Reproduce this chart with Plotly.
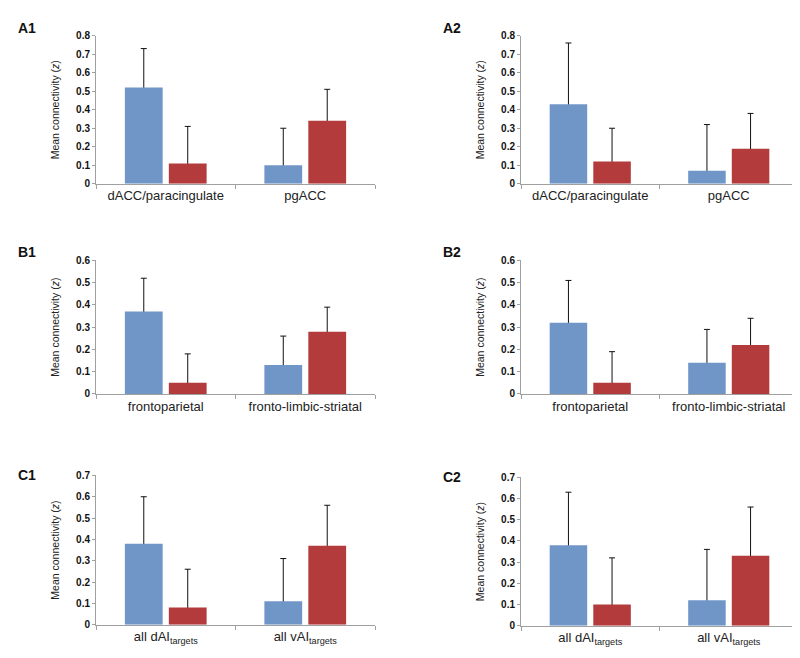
"""Mean connectivity bar panels (A1-C2) rebuilt with Plotly."""
import plotly.graph_objects as go

W, H = 800, 658

BLUE = "#7096C8"
RED = "#B43B3B"
AXIS = "#A0A0A0"

CATS_A = ["dACC/paracingulate", "pgACC"]
CATS_B = ["frontoparietal", "fronto-limbic-striatal"]
CATS_C = ["all dAI<sub>targets</sub>", "all vAI<sub>targets</sub>"]

A1_BLUE = [0.52, 0.10]
A1_BLUE_ERR = [0.21, 0.20]
A1_RED = [0.11, 0.34]
A1_RED_ERR = [0.20, 0.17]

A2_BLUE = [0.43, 0.07]
A2_BLUE_ERR = [0.33, 0.25]
A2_RED = [0.12, 0.19]
A2_RED_ERR = [0.18, 0.19]

B1_BLUE = [0.37, 0.13]
B1_BLUE_ERR = [0.15, 0.13]
B1_RED = [0.05, 0.28]
B1_RED_ERR = [0.13, 0.11]

B2_BLUE = [0.32, 0.14]
B2_BLUE_ERR = [0.19, 0.15]
B2_RED = [0.05, 0.22]
B2_RED_ERR = [0.14, 0.12]

C1_BLUE = [0.38, 0.11]
C1_BLUE_ERR = [0.22, 0.20]
C1_RED = [0.08, 0.37]
C1_RED_ERR = [0.18, 0.19]

C2_BLUE = [0.38, 0.12]
C2_BLUE_ERR = [0.25, 0.24]
C2_RED = [0.10, 0.33]
C2_RED_ERR = [0.22, 0.23]

# panel: label, categories, blue, blue err, red, red err, ymax,
#        pixel box (x0, x1, y_zero, y_top), label position (px)
PANELS = [
    ("A1", CATS_A, A1_BLUE, A1_BLUE_ERR, A1_RED, A1_RED_ERR, 0.8,
     (88, 367, 173, 22), (8, 14)),
    ("A2", CATS_A, A2_BLUE, A2_BLUE_ERR, A2_RED, A2_RED_ERR, 0.8,
     (513, 790, 173, 22), (433, 14)),
    ("B1", CATS_B, B1_BLUE, B1_BLUE_ERR, B1_RED, B1_RED_ERR, 0.6,
     (88, 367, 387, 251), (8, 242)),
    ("B2", CATS_B, B2_BLUE, B2_BLUE_ERR, B2_RED, B2_RED_ERR, 0.6,
     (513, 790, 387, 251), (433, 242)),
    ("C1", CATS_C, C1_BLUE, C1_BLUE_ERR, C1_RED, C1_RED_ERR, 0.7,
     (88, 367, 622, 470), (8, 470)),
    ("C2", CATS_C, C2_BLUE, C2_BLUE_ERR, C2_RED, C2_RED_ERR, 0.7,
     (513, 790, 623, 472), (433, 472)),
]


def _err(vals):
    # upward only; the lower cap sits slightly inside the bar and is covered
    return dict(type="data", array=vals, arrayminus=[0.012] * len(vals),
                symmetric=False, color="#111111", thickness=1, width=3)


fig = go.Figure()
layout = {}
for i, (label, cats, blue, blue_err, red, red_err, ymax, box, lpos) in enumerate(PANELS):
    n = "" if i == 0 else str(i + 1)
    x0, x1, yz, yt = box
    # error bars first (transparent bars), then the coloured bars on top
    for vals, errs, grp in ((blue, blue_err, "b"), (red, red_err, "r")):
        fig.add_trace(go.Bar(
            x=cats, y=vals, offsetgroup=grp,
            marker=dict(color="rgba(0,0,0,0)", line=dict(width=0)),
            error_y=_err(errs), xaxis="x" + n, yaxis="y" + n,
            showlegend=False, hoverinfo="skip",
        ))
    for vals, col, grp in ((blue, BLUE, "b"), (red, RED, "r")):
        fig.add_trace(go.Bar(
            x=cats, y=vals, offsetgroup=grp,
            marker=dict(color=col, line=dict(width=0)),
            xaxis="x" + n, yaxis="y" + n, showlegend=False,
        ))
    layout["xaxis" + n] = dict(
        domain=[x0 / W, x1 / W], anchor="y" + n,
        showline=True, linecolor=AXIS, linewidth=1,
        ticks="outside", tickson="boundaries", ticklen=4, tickcolor=AXIS,
        tickfont=dict(size=13, color="#222222", family="Arial, Liberation Sans"),
        showgrid=False, fixedrange=True,
    )
    layout["yaxis" + n] = dict(
        domain=[1 - yz / H, 1 - yt / H], anchor="x" + n,
        range=[0, ymax], dtick=0.1,
        showline=True, linecolor=AXIS, linewidth=1,
        ticks="outside", ticklen=3, tickcolor=AXIS,
        tickfont=dict(size=10, color="#111111",
                      family="Arial, Liberation Sans", weight="bold"),
        showgrid=False, zeroline=False,
        title=dict(text="Mean connectivity (<i>z</i>)", standoff=14,
                   font=dict(size=10.5, color="#222222", family="Arial, Liberation Sans")),
    )
    fig.add_annotation(
        x=lpos[0] / W, y=1 - lpos[1] / H, xref="paper", yref="paper",
        xanchor="left", yanchor="middle", showarrow=False,
        text=f"<b>{label}</b>",
        font=dict(size=14, color="#111111", family="Arial, Liberation Sans"),
    )

fig.update_layout(
    **layout,
    width=W, height=H,
    margin=dict(l=0, r=0, t=0, b=0),
    barmode="group", bargap=0.37, bargroupgap=0.14,
    plot_bgcolor="white", paper_bgcolor="white",
    font=dict(family="Arial, Liberation Sans", color="#222222"),
)
fig.write_html("out.html")
